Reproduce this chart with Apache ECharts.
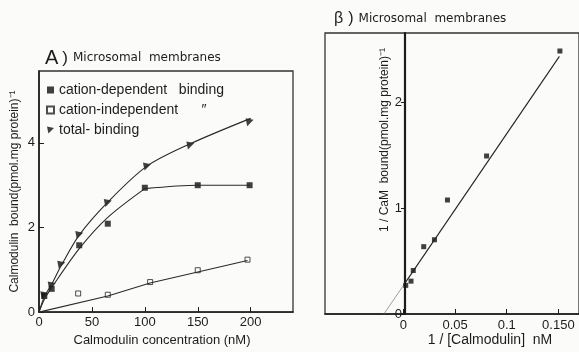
<!DOCTYPE html>
<html>
<head>
<meta charset="utf-8">
<script src="https://cdn.jsdelivr.net/npm/echarts@6/dist/echarts.min.js"></script>
<style>
  html, body { margin: 0; padding: 0; background: #fbfbf9; }
  #chart { width: 579px; height: 352px; }
</style>
</head>
<body>
<div id="chart"></div>
<script>
// Panel A: calmodulin binding vs concentration (nM)
const aDepX = [5, 12, 38, 65, 100, 150, 199];
const aDepY = [0.38, 0.55, 1.58, 2.09, 2.94, 3.0, 3.0];
const aIndX = [37, 65, 105, 150, 197];
const aIndY = [0.44, 0.41, 0.71, 0.99, 1.24];
const aTotX = [5, 12, 21, 38, 65, 102, 143, 199];
const aTotY = [0.40, 0.63, 1.12, 1.82, 2.58, 3.44, 3.94, 4.49];

// hand-drawn curves of panel A
const depCurveX = [0, 5, 12, 38, 65, 100];
const depCurveY = [0, 0.3, 0.58, 1.5, 2.24, 2.92];
const depFlatX = [100, 150, 199];
const depFlatY = [2.92, 3.0, 3.0];
const totCurveX = [0, 5, 12, 21, 38, 65, 102, 143, 200];
const totCurveY = [0, 0.36, 0.66, 1.1, 1.82, 2.6, 3.45, 3.98, 4.58];
const indCurveX = [0, 65, 105, 150, 197];
const indCurveY = [0, 0.38, 0.69, 0.95, 1.22];

// Panel B: double reciprocal plot
const bX = [0.0022, 0.0073, 0.0095, 0.0196, 0.030, 0.0426, 0.0805, 0.1515];
const bY = [0.27, 0.31, 0.41, 0.635, 0.70, 1.075, 1.49, 2.48];
const fitX = [0, 0.151];
const fitY = [0.27, 2.43];
const extX = [-0.019, 0];
const extY = [0, 0.27];

const bTicks = [0, 0.05, 0.1, 0.15];
const bTickLabels = ['0', '0.05', '0.1', '0.150'];

const zip = (xs, ys) => xs.map((x, i) => [x, ys[i]]);
const ink = '#1c1c1c';
const font = 'Liberation Sans';
const titleFont = 'DejaVu Sans';
const curve = { color: '#2a2a2a', width: 1.1 };

const chart = echarts.init(document.getElementById('chart'));
chart.setOption({
  backgroundColor: '#fbfbf9',
  animation: false,
  textStyle: { fontFamily: font, color: ink },
  title: [
    {
      text: '{big|A}{p|)} {t|Microsomal  membranes}',
      left: 40, top: 43,
      textStyle: {
        fontWeight: 'normal',
        rich: {
          big: { fontSize: 20, fontFamily: font, color: ink, fontWeight: 'normal', padding: [0, 4, 0, 0] },
          p: { fontSize: 17, fontFamily: font, color: ink, fontWeight: 'normal' },
          t: { fontSize: 12, fontFamily: titleFont, color: ink, fontWeight: 'normal' }
        }
      }
    },
    {
      text: '{big|β}{p|)} {t|Microsomal  membranes}',
      left: 329, top: 5,
      textStyle: {
        fontWeight: 'normal',
        rich: {
          big: { fontSize: 16, fontFamily: font, color: ink, fontWeight: 'normal', padding: [0, 5, 0, 0] },
          p: { fontSize: 16, fontFamily: font, color: ink, fontWeight: 'normal' },
          t: { fontSize: 12, fontFamily: titleFont, color: ink, fontWeight: 'normal' }
        }
      }
    }
  ],
  legend: {
    orient: 'vertical',
    left: 41, top: 78,
    itemWidth: 7, itemHeight: 7, itemGap: 6,
    textStyle: { fontSize: 14, fontFamily: font, color: ink },
    data: ['cation-dependent   binding', 'cation-independent      ″', 'total- binding']
  },
  grid: [
    { left: 39, top: 71, right: 286, bottom: 38, show: true, borderColor: '#333', borderWidth: 1.3, backgroundColor: 'transparent' },
    { left: 325, top: 33, right: -6, bottom: 38, show: true, borderColor: '#333', borderWidth: 1.3, backgroundColor: 'transparent' }
  ],
  xAxis: [
    {
      gridIndex: 0, type: 'value', min: 0, max: 240, interval: 50,
      axisLine: { lineStyle: { color: ink, width: 1.6 } },
      axisTick: { inside: true, length: 5, lineStyle: { color: ink } },
      axisLabel: { fontSize: 13, color: ink, margin: 4, showMaxLabel: false,
        formatter: v => (v > 200 ? '' : String(v)) },
      splitLine: { show: false },
      name: 'Calmodulin concentration (nM)', nameLocation: 'middle', nameGap: 21,
      nameTextStyle: { fontSize: 13, color: ink, padding: [0, 8, 0, 0] }
    },
    {
      gridIndex: 1, type: 'value', min: -0.076, max: 0.17,
      axisLine: { onZero: false, lineStyle: { color: ink, width: 1.6 } },
      axisTick: { inside: true, length: 5, customValues: bTicks, lineStyle: { color: ink } },
      axisLabel: { fontSize: 13, color: ink, margin: 5, customValues: bTicks,
        formatter: v => {
          const i = bTicks.findIndex(t => Math.abs(t - v) < 1e-9);
          return i >= 0 ? bTickLabels[i] : '';
        } },
      splitLine: { show: false }
    }
  ],
  yAxis: [
    {
      gridIndex: 0, type: 'value', min: 0, max: 5.7, interval: 2,
      axisLine: { lineStyle: { color: ink, width: 1.6 } },
      axisTick: { inside: true, length: 5, lineStyle: { color: ink } },
      axisLabel: { fontSize: 13, color: ink, margin: 4, showMaxLabel: false },
      splitLine: { show: false },
      name: 'Calmodulin  bound(pmol.mg protein)⁻¹', nameLocation: 'middle', nameGap: 18,
      nameTextStyle: { fontSize: 12, color: ink }
    },
    {
      // y axis drawn at x = 0 inside the box
      gridIndex: 1, type: 'value', min: 0, max: 2.65, interval: 1,
      position: 'left', offset: -80,
      axisLine: { onZero: false, lineStyle: { color: ink, width: 2.2 } },
      axisTick: { inside: false, length: 4, lineStyle: { color: ink } },
      axisLabel: { fontSize: 13, color: ink, margin: 3, showMaxLabel: false },
      splitLine: { show: false }
    }
  ],
  graphic: [
    {
      type: 'text', x: 385, y: 140, rotation: Math.PI / 2,
      style: { text: '1 / CaM  bound(pmol.mg protein)⁻¹', fontSize: 12, fontFamily: font,
        fill: ink, align: 'center', verticalAlign: 'middle' }
    },
    {
      type: 'text', x: 490, y: 340,
      style: { text: '1 / [Calmodulin]  nM', fontSize: 14, fontFamily: font,
        fill: ink, align: 'center', verticalAlign: 'middle' }
    }
  ],
  series: [
    { name: 'dep curve', type: 'line', xAxisIndex: 0, yAxisIndex: 0, data: zip(depCurveX, depCurveY),
      smooth: 0.3, showSymbol: false, silent: true, lineStyle: curve },
    { name: 'dep flat', type: 'line', xAxisIndex: 0, yAxisIndex: 0, data: zip(depFlatX, depFlatY),
      smooth: 0.3, showSymbol: false, silent: true, lineStyle: curve },
    { name: 'tot curve', type: 'line', xAxisIndex: 0, yAxisIndex: 0, data: zip(totCurveX, totCurveY),
      smooth: 0.3, showSymbol: false, silent: true, lineStyle: curve },
    { name: 'ind curve', type: 'line', xAxisIndex: 0, yAxisIndex: 0, data: zip(indCurveX, indCurveY),
      showSymbol: false, silent: true, lineStyle: curve },
    { name: 'cation-dependent   binding', type: 'scatter', xAxisIndex: 0, yAxisIndex: 0,
      data: zip(aDepX, aDepY), symbol: 'rect', symbolSize: 6, itemStyle: { color: '#111' } },
    { name: 'cation-independent      ″', type: 'scatter', xAxisIndex: 0, yAxisIndex: 0,
      data: zip(aIndX, aIndY), symbol: 'rect', symbolSize: 5,
      itemStyle: { color: '#fbfbf9', borderColor: '#222', borderWidth: 1 } },
    { name: 'total- binding', type: 'scatter', xAxisIndex: 0, yAxisIndex: 0,
      data: zip(aTotX, aTotY), symbol: 'path://M0,0L10,2L2,10Z', symbolSize: 8, itemStyle: { color: '#111' } },

    { name: 'extrapolation', type: 'line', xAxisIndex: 1, yAxisIndex: 1, data: zip(extX, extY),
      showSymbol: false, silent: true, lineStyle: { color: '#777', width: 0.7 } },
    { name: 'fit', type: 'line', xAxisIndex: 1, yAxisIndex: 1, data: zip(fitX, fitY),
      showSymbol: false, silent: true, lineStyle: { color: '#222', width: 1.1 } },
    { name: 'B points', type: 'scatter', xAxisIndex: 1, yAxisIndex: 1,
      data: zip(bX, bY), symbol: 'rect', symbolSize: 5, itemStyle: { color: '#111' } }
  ]
});
</script>
</body>
</html>
